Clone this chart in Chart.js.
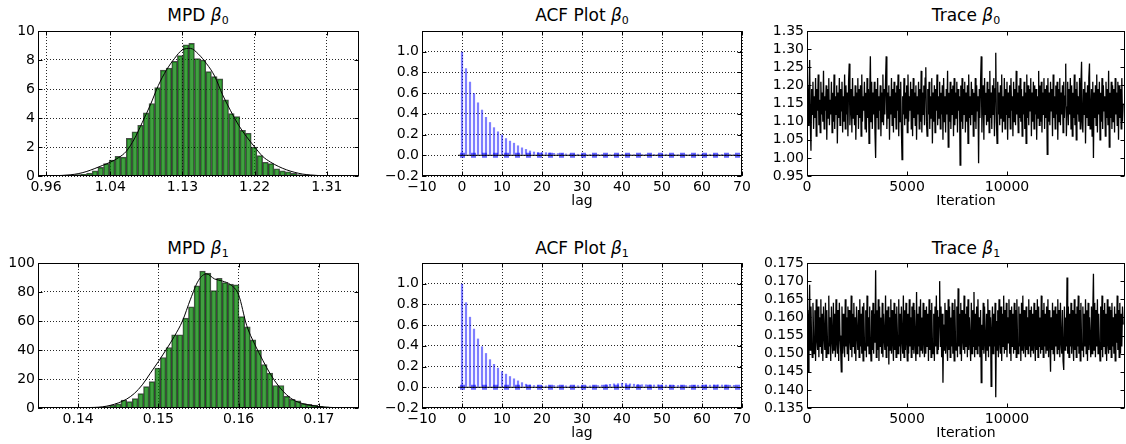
<!DOCTYPE html>
<html>
<head>
<meta charset="utf-8">
<script src="https://cdn.jsdelivr.net/npm/chart.js@4.4.0/dist/chart.umd.min.js"></script>
<style>
body { margin: 0; background: #fff; }
#fig { position: relative; width: 1126px; height: 444px; overflow: hidden; font-family: 'DejaVu Sans', sans-serif; }
#fig canvas { position: absolute; }
.ttl { position: absolute; transform: translateX(-50%); font-size: 17px; line-height: 17px; white-space: nowrap; color: #000; }
.ttl sub { font-size: 11px; line-height: 0; vertical-align: -3px; }
</style>
</head>
<body>
<div id="fig">
  <div class="ttl" style="left:198px;top:7px">MPD <i>β</i><sub>0</sub></div>
  <div class="ttl" style="left:582px;top:7px">ACF Plot <i>β</i><sub>0</sub></div>
  <div class="ttl" style="left:966px;top:7px">Trace <i>β</i><sub>0</sub></div>
  <div class="ttl" style="left:198px;top:240px">MPD <i>β</i><sub>1</sub></div>
  <div class="ttl" style="left:582px;top:240px">ACF Plot <i>β</i><sub>1</sub></div>
  <div class="ttl" style="left:966px;top:240px">Trace <i>β</i><sub>1</sub></div>

  <canvas id="mpd0" width="370" height="216" style="left:0;top:0"></canvas>
  <canvas id="acf0" width="385" height="216" style="left:370px;top:0"></canvas>
  <canvas id="trace0" width="376" height="216" style="left:750px;top:0"></canvas>
  <canvas id="mpd1" width="370" height="218" style="left:0;top:230px"></canvas>
  <canvas id="acf1" width="385" height="218" style="left:370px;top:230px"></canvas>
  <canvas id="trace1" width="376" height="218" style="left:750px;top:230px"></canvas>
</div>

<script>
// ---- histogram of beta0 (bin centres / heights) and its density curve
const mpd0Bins = [0.9856,0.9927,0.9998,1.0069,1.0140,1.0210,1.0281,1.0352,1.0423,1.0494,1.0564,1.0635,1.0706,1.0777,1.0848,
  1.0918,1.0989,1.1060,1.1131,1.1202,1.1272,1.1343,1.1414,1.1485,1.1556,1.1626,1.1697,1.1768,1.1839,1.1910,1.1980,1.2051,
  1.2122,1.2193,1.2264,1.2334,1.2405,1.2476,1.2547,1.2618,1.2688,1.2759,1.2830,1.2901];
const mpd0Heights = [0.05,0.07,0.1,0.12,0.2,0.35,0.6,0.85,1.1,1.35,1.3,2.6,3.05,3.5,4.35,5.0,6.1,7.3,7.45,7.9,8.3,9.05,9.15,
  8.1,8.0,7.2,6.85,6.7,5.25,4.3,4.1,3.15,2.95,2.0,1.4,0.95,0.85,0.5,0.35,0.28,0.18,0.1,0.06,0.03];
const kde0X = [0.97,0.98,0.99,1.00,1.01,1.02,1.03,1.04,1.05,1.06,1.07,1.08,1.09,1.10,1.11,1.12,1.13,1.14,1.15,1.16,1.17,1.18,
  1.19,1.20,1.21,1.22,1.23,1.24,1.25,1.26,1.27,1.28,1.29,1.30,1.31];
const kde0Y = [0.02,0.04,0.08,0.16,0.3,0.5,0.72,0.95,1.25,1.7,2.55,3.7,4.9,6.25,7.3,8.1,8.7,8.8,8.4,7.75,6.9,5.6,4.5,3.5,
  2.7,2.0,1.35,0.95,0.65,0.42,0.25,0.13,0.07,0.03,0.01];

// ---- histogram of beta1
const mpd1Bins = [0.1387,0.1394,0.1401,0.1408,0.1415,0.1422,0.1429,0.1436,0.1443,0.1450,0.1457,0.1464,0.1471,0.1478,0.1485,
  0.1492,0.1499,0.1506,0.1513,0.1520,0.1527,0.1534,0.1541,0.1548,0.1555,0.1562,0.1569,0.1576,0.1583,0.1590,0.1597,0.1604,
  0.1611,0.1618,0.1625,0.1632,0.1639,0.1646,0.1653,0.1660,0.1667,0.1674,0.1681,0.1688,0.1695,0.1702,0.1709,0.1716,0.1723,0.1730];
const mpd1Heights = [0.5,0.2,0.3,0.4,0.3,0.3,0.6,1.0,2.0,2.8,5.5,4.4,6.5,9.9,14.7,18.2,27.6,34.8,41.7,50.5,50.5,62,69.8,84.3,
  94.5,93,81,89.5,86.5,85.5,85,63,56,47,40,30,24,15.5,15.5,8,6,5,3,2.5,2,1.2,0.8,0.5,0.3,0.2];
const kde1X = [0.138,0.139,0.140,0.141,0.142,0.143,0.144,0.145,0.146,0.147,0.148,0.149,0.150,0.151,0.152,0.153,0.154,0.155,
  0.156,0.157,0.158,0.159,0.160,0.161,0.162,0.163,0.164,0.165,0.166,0.167,0.168,0.169,0.170,0.171,0.172,0.173];
const kde1Y = [0.1,0.2,0.2,0.3,0.4,0.8,1.8,3.5,6,10,16,24,32,40.5,49.5,60,75,88,92.5,89,87.5,85,78,57,44,33,23,15,9,5,3,1.8,
  1.0,0.5,0.3,0.1];

// ---- autocorrelation by lag (lag = index)
const acf0 = [1.0,0.84,0.71,0.60,0.51,0.44,0.37,0.32,0.27,0.23,0.20,0.165,0.14,0.12,0.095,0.075,0.06,0.045,0.035,0.03,0.03,
  0.028,0.025,0.022,0.02,0.018,0.016,0.015,0.014,0.013,0.012,0.012,0.011,0.01,0.012,0.011,0.01,0.009,0.01,0.012,0.013,0.012,
  0.011,0.01,0.01,0.011,0.012,0.013,0.012,0.011,0.012,0.013,0.012,0.011,0.01,0.01,0.011,0.012,0.013,0.014,0.013,0.012,0.013,
  0.014,0.013,0.012,0.012,0.011,0.01];
const acf1 = [1.0,0.82,0.68,0.565,0.47,0.395,0.33,0.27,0.225,0.188,0.155,0.13,0.107,0.085,0.065,0.048,0.033,0.025,0.02,0.02,
  0.018,0.017,0.018,0.02,0.019,0.018,0.017,0.016,0.017,0.018,0.017,0.016,0.017,0.018,0.02,0.024,0.028,0.032,0.036,0.038,0.042,
  0.04,0.036,0.033,0.03,0.028,0.027,0.026,0.025,0.026,0.025,0.024,0.023,0.022,0.021,0.02,0.02,0.021,0.022,0.023,0.024,0.025,
  0.024,0.025,0.026,0.025,0.024,0.023,0.022];
const acfLineSpan = [-1, 69];

// ---- thinned traces (one stored sample every traceStep iterations)
const traceStep = 33;
const trace0 = [
  1.15,1.20,1.09,1.18,1.27,1.10,1.02,1.19,1.12,1.21,1.08,1.17,1.11,1.22,1.06,1.19,1.13,1.23,1.09,1.16,
  1.07,1.21,1.12,1.18,1.10,1.24,1.08,1.17,1.13,1.20,1.05,1.19,1.11,1.22,1.09,1.16,1.12,1.21,1.07,1.18,
  1.10,1.23,1.08,1.17,1.12,1.20,1.04,1.18,1.11,1.22,1.09,1.19,1.13,1.21,1.07,1.17,1.10,1.23,1.08,1.20,
  1.12,1.18,1.06,1.21,1.26,1.09,1.14,1.19,1.07,1.22,1.11,1.17,1.09,1.20,1.05,1.18,1.12,1.22,1.08,1.19,
  1.11,1.20,1.06,1.23,1.10,1.17,1.13,1.21,1.08,1.18,1.07,1.22,1.11,1.19,1.04,1.17,1.28,1.10,1.21,1.08,
  1.18,1.12,1.21,1.07,1.00,1.19,1.11,1.22,1.08,1.17,1.13,1.20,1.06,1.18,1.10,1.23,1.09,1.19,1.12,1.21,
  1.28,1.08,1.18,1.11,1.20,1.05,1.17,1.12,1.22,1.09,1.19,1.07,1.21,1.11,1.18,1.08,1.20,1.13,1.23,1.06,
  1.19,1.10,1.21,1.08,0.995,1.17,1.12,1.22,1.09,1.18,1.11,1.20,1.07,1.23,1.10,1.17,1.13,1.21,1.08,1.19,
  1.06,1.22,1.11,1.18,1.09,1.20,1.05,1.17,1.12,1.21,1.08,1.19,1.10,1.24,1.07,1.18,1.12,1.20,1.09,1.22,
  1.25,1.10,1.06,1.19,1.12,1.21,1.08,1.17,1.11,1.22,1.04,1.18,1.10,1.20,1.07,1.19,1.13,1.23,1.09,1.17,
  1.11,1.21,1.08,1.18,1.12,1.20,1.05,1.22,1.10,1.17,1.07,1.19,1.12,1.24,1.03,1.18,1.10,1.21,1.08,1.19,
  1.12,1.20,1.06,1.22,1.09,1.18,1.11,1.21,1.07,1.19,1.13,1.17,0.98,1.20,1.10,1.22,1.08,1.19,1.12,1.21,
  1.07,1.18,1.10,1.20,1.04,1.23,1.11,1.17,1.09,1.21,1.12,1.19,1.06,1.18,1.10,1.22,1.08,1.20,1.13,1.17,
  0.985,1.19,1.11,1.21,1.28,1.07,1.16,1.20,1.05,1.22,1.12,1.18,1.09,1.21,1.10,1.19,1.07,1.24,1.11,1.18,
  1.08,1.20,1.12,1.22,1.06,1.19,1.29,1.10,1.04,1.21,1.12,1.18,1.09,1.20,1.11,1.23,1.07,1.17,1.10,1.22,
  1.08,1.19,1.12,1.21,1.05,1.18,1.11,1.20,1.08,1.22,1.13,1.17,1.06,1.21,1.10,1.19,1.09,1.24,1.12,1.18,
  1.07,1.20,1.11,1.22,1.10,1.19,1.06,1.17,1.12,1.21,1.08,1.18,1.04,1.23,1.11,1.20,1.09,1.19,1.13,1.22,
  1.06,1.18,1.10,1.21,1.08,1.20,1.12,1.19,1.05,1.17,1.11,1.24,1.09,1.20,1.10,1.21,1.07,1.18,1.12,1.22,
  1.08,1.19,1.11,1.20,1.01,1.22,1.10,1.18,1.09,1.21,1.13,1.19,1.06,1.23,1.11,1.17,1.08,1.20,1.12,1.21,
  1.05,1.19,1.10,1.22,1.09,1.18,1.12,1.20,1.07,1.21,1.11,1.17,1.26,1.06,1.14,1.21,1.09,1.19,1.12,1.22,
  1.08,1.20,1.06,1.18,1.11,1.23,1.09,1.19,1.05,1.21,1.12,1.17,1.10,1.22,1.08,1.20,1.265,1.10,1.07,1.19,
  1.12,1.21,1.04,1.18,1.11,1.20,1.09,1.22,1.26,1.08,1.13,1.19,1.06,1.21,1.00,1.18,1.11,1.20,1.09,1.23,
  1.07,1.19,1.12,1.21,1.05,1.18,1.10,1.22,1.08,1.20,1.13,1.17,1.06,1.21,1.11,1.19,1.09,1.24,1.03,1.18,
  1.11,1.21,1.08,1.20,1.10,1.19,1.07,1.22,1.12,1.18,1.09,1.21,1.05,1.20,1.11,1.19,1.08,1.22,1.10,1.15];
const trace1 = [
  0.157,0.162,0.145,0.160,0.169,0.151,0.163,0.153,0.149,0.164,0.155,0.150,0.162,0.148,0.165,0.154,0.151,0.163,0.149,0.160,
  0.152,0.165,0.150,0.161,0.148,0.163,0.155,0.151,0.164,0.149,0.162,0.153,0.150,0.166,0.152,0.160,0.148,0.163,0.154,0.150,
  0.164,0.151,0.161,0.149,0.165,0.153,0.150,0.162,0.148,0.164,0.155,0.151,0.145,0.163,0.150,0.161,0.153,0.149,0.165,0.152,
  0.160,0.150,0.163,0.148,0.162,0.154,0.151,0.166,0.149,0.161,0.152,0.164,0.150,0.160,0.148,0.163,0.155,0.151,0.162,0.149,
  0.165,0.152,0.161,0.150,0.163,0.148,0.164,0.153,0.151,0.162,0.149,0.166,0.152,0.160,0.150,0.163,0.154,0.148,0.162,0.151,
  0.164,0.150,0.161,0.153,0.173,0.149,0.162,0.151,0.165,0.148,0.163,0.152,0.160,0.150,0.164,0.149,0.161,0.154,0.151,0.166,
  0.149,0.162,0.152,0.163,0.147,0.160,0.151,0.165,0.150,0.162,0.153,0.148,0.164,0.151,0.161,0.149,0.163,0.155,0.150,0.165,
  0.152,0.161,0.148,0.163,0.154,0.150,0.166,0.149,0.162,0.151,0.164,0.153,0.148,0.161,0.150,0.165,0.152,0.160,0.149,0.163,
  0.151,0.164,0.150,0.162,0.153,0.148,0.167,0.150,0.161,0.152,0.163,0.149,0.165,0.151,0.160,0.150,0.164,0.153,0.149,0.162,
  0.150,0.163,0.152,0.161,0.148,0.165,0.151,0.162,0.149,0.164,0.153,0.150,0.161,0.148,0.163,0.152,0.166,0.150,0.162,0.151,
  0.160,0.170,0.152,0.163,0.149,0.161,0.142,0.158,0.151,0.164,0.150,0.162,0.153,0.148,0.165,0.151,0.163,0.149,0.160,0.152,
  0.164,0.150,0.162,0.148,0.165,0.153,0.151,0.163,0.149,0.168,0.152,0.161,0.150,0.164,0.148,0.162,0.154,0.151,0.166,0.150,
  0.161,0.152,0.163,0.149,0.165,0.151,0.160,0.153,0.148,0.164,0.150,0.162,0.152,0.167,0.149,0.161,0.151,0.163,0.150,0.165,
  0.152,0.160,0.149,0.162,0.142,0.158,0.151,0.164,0.150,0.163,0.153,0.148,0.161,0.151,0.165,0.149,0.162,0.152,0.160,0.141,
  0.156,0.163,0.150,0.161,0.152,0.164,0.138,0.159,0.151,0.162,0.149,0.165,0.153,0.150,0.163,0.148,0.161,0.152,0.166,0.150,
  0.162,0.151,0.164,0.149,0.160,0.153,0.165,0.150,0.162,0.148,0.163,0.152,0.161,0.150,0.164,0.151,0.162,0.149,0.165,0.153,
  0.150,0.163,0.152,0.161,0.148,0.164,0.151,0.166,0.150,0.162,0.153,0.149,0.163,0.151,0.160,0.150,0.165,0.152,0.162,0.149,
  0.163,0.151,0.161,0.150,0.164,0.153,0.148,0.162,0.151,0.165,0.149,0.163,0.152,0.160,0.150,0.166,0.151,0.162,0.149,0.164,
  0.152,0.161,0.150,0.163,0.151,0.165,0.149,0.162,0.153,0.145,0.160,0.151,0.164,0.150,0.162,0.148,0.163,0.152,0.161,0.150,
  0.165,0.151,0.162,0.149,0.164,0.153,0.150,0.162,0.148,0.1455,0.163,0.151,0.160,0.152,0.171,0.150,0.163,0.149,0.161,0.152,
  0.164,0.150,0.162,0.153,0.148,0.165,0.151,0.161,0.149,0.163,0.152,0.166,0.150,0.162,0.148,0.164,0.153,0.151,0.163,0.149,
  0.161,0.152,0.165,0.150,0.162,0.148,0.164,0.151,0.160,0.153,0.149,0.163,0.150,0.161,0.172,0.151,0.164,0.149,0.162,0.152,
  0.165,0.150,0.161,0.153,0.148,0.163,0.151,0.166,0.149,0.162,0.152,0.164,0.150,0.161,0.148,0.165,0.153,0.150,0.163,0.151,
  0.162,0.149,0.164,0.152,0.160,0.150,0.163,0.148,0.161,0.153,0.166,0.151,0.162,0.149,0.164,0.150,0.161,0.152,0.163,0.158];

// ---- tick values
const mpd0XTicks = [0.96, 1.04, 1.13, 1.22, 1.31];
const mpd0YTicks = [0, 2, 4, 6, 8, 10];
const mpd1XTicks = [0.14, 0.15, 0.16, 0.17];
const mpd1YTicks = [0, 20, 40, 60, 80, 100];
const acfXTicks = [-10, 0, 10, 20, 30, 40, 50, 60, 70];
const acfYTicks = [-0.2, 0, 0.2, 0.4, 0.6, 0.8, 1.0];
const traceXTicks = [0, 5000, 10000];
const trace0YTicks = [0.95, 1.00, 1.05, 1.10, 1.15, 1.20, 1.25, 1.30, 1.35];
const trace1YTicks = [0.135, 0.140, 0.145, 0.150, 0.155, 0.160, 0.165, 0.170, 0.175];

Chart.defaults.font.family = "'DejaVu Sans', sans-serif";
Chart.defaults.font.size = 14;
Chart.defaults.color = '#000';

const minus = s => s.replace('-', '\u2212');

// box around the plot plus matplotlib-like inward ticks on all four sides
const frameTicks = {
  id: 'frameTicks',
  afterDraw(chart) {
    const { ctx, chartArea: a, scales } = chart;
    const L = Math.round(a.left) + 0.5, R = Math.round(a.right) - 0.5;
    const T = Math.round(a.top) + 0.5, B = Math.round(a.bottom) - 0.5;
    ctx.save();
    ctx.strokeStyle = '#000';
    ctx.lineWidth = 1;
    ctx.beginPath();
    scales.x.ticks.forEach(t => {
      const p = Math.round(scales.x.getPixelForValue(t.value)) + 0.5;
      ctx.moveTo(p, B); ctx.lineTo(p, B - 4);
      ctx.moveTo(p, T); ctx.lineTo(p, T + 4);
    });
    scales.y.ticks.forEach(t => {
      const p = Math.round(scales.y.getPixelForValue(t.value)) + 0.5;
      ctx.moveTo(L, p); ctx.lineTo(L + 4, p);
      ctx.moveTo(R, p); ctx.lineTo(R - 4, p);
    });
    ctx.stroke();
    ctx.strokeRect(L, T, R - L, B - T);
    ctx.restore();
  }
};

function buildChart(id, type, datasets, o) {
  return new Chart(document.getElementById(id), {
    type: type,
    data: { datasets: datasets },
    options: {
      responsive: false,
      animation: false,
      devicePixelRatio: 1,
      layout: { padding: { top: o.padTop, right: o.padRight, left: 0, bottom: 0 } },
      plugins: { legend: { display: false }, tooltip: { enabled: false } },
      scales: {
        x: {
          type: 'linear', min: o.xMin, max: o.xMax, offset: false,
          afterBuildTicks: s => { s.ticks = o.xTicks.map(v => ({ value: v })); },
          afterFit: s => { s.height = 40; },
          ticks: { autoSkip: false, maxRotation: 0, padding: 3, callback: o.xFmt },
          grid: { display: o.grid, drawTicks: false, offset: false, color: 'rgba(0,0,0,0.85)' },
          border: { display: false, dash: [1, 2] },
          title: { display: !!o.xTitle, text: o.xTitle, font: { size: 14 }, padding: { top: 0, bottom: 6 } }
        },
        y: {
          type: 'linear', min: o.yMin, max: o.yMax,
          afterBuildTicks: s => { s.ticks = o.yTicks.map(v => ({ value: v })); },
          afterFit: s => { s.width = o.yWidth; },
          ticks: { autoSkip: false, padding: 3, callback: o.yFmt },
          grid: { display: o.grid, drawTicks: false, color: 'rgba(0,0,0,0.85)' },
          border: { display: false, dash: [1, 2] }
        }
      }
    },
    plugins: [frameTicks]
  });
}

function histSets(bins, heights, kx, ky) {
  return [
    { type: 'line', order: 0, data: kx.map((x, i) => ({ x: x, y: ky[i] })), borderColor: '#000', borderWidth: 1,
      pointRadius: 0, cubicInterpolationMode: 'monotone', fill: false },
    { type: 'bar', order: 1, data: bins.map((x, i) => ({ x: x, y: heights[i] })),
      backgroundColor: 'rgba(0,128,0,0.75)', borderColor: 'rgba(0,0,0,0.7)', borderWidth: 1,
      barPercentage: 1, categoryPercentage: 1 }
  ];
}

function acfSets(vals) {
  return [
    { type: 'line', order: 0, data: acfLineSpan.map(x => ({ x: x, y: 0 })), borderColor: '#000', borderWidth: 1, pointRadius: 0 },
    { type: 'line', order: 1, data: [{ x: -0.5, y: 0 }, { x: vals.length + 0.5, y: 0 }], borderColor: 'rgba(0,0,255,0.6)',
      borderWidth: 5, borderDash: [5, 6], pointRadius: 0 },
    { type: 'bar', order: 2, data: vals.map((v, i) => ({ x: i, y: v })), backgroundColor: 'rgba(0,0,255,0.5)',
      borderWidth: 0, barPercentage: 0.55, categoryPercentage: 1 }
  ];
}

function traceSets(vals) {
  return [{ type: 'line', data: vals.map((v, i) => ({ x: i * traceStep, y: v })), borderColor: '#000', borderWidth: 1.3,
    pointRadius: 0, tension: 0 }];
}

const rows = [
  { padTop: 31, mpdBins: mpd0Bins, mpdH: mpd0Heights, kx: kde0X, ky: kde0Y, acf: acf0, trace: trace0, suffix: '0',
    mpd: { xMin: 0.95, xMax: 1.35, xTicks: mpd0XTicks, yMin: 0, yMax: 10, yTicks: mpd0YTicks, xFmt: v => v.toFixed(2) },
    trY: { yMin: 0.95, yMax: 1.35, yTicks: trace0YTicks, yFmt: v => v.toFixed(2) } },
  { padTop: 33, mpdBins: mpd1Bins, mpdH: mpd1Heights, kx: kde1X, ky: kde1Y, acf: acf1, trace: trace1, suffix: '1',
    mpd: { xMin: 0.135, xMax: 0.175, xTicks: mpd1XTicks, yMin: 0, yMax: 100, yTicks: mpd1YTicks, xFmt: v => v.toFixed(2) },
    trY: { yMin: 0.135, yMax: 0.175, yTicks: trace1YTicks, yFmt: v => v.toFixed(3) } }
];

rows.forEach(r => {
  buildChart('mpd' + r.suffix, 'bar', histSets(r.mpdBins, r.mpdH, r.kx, r.ky), Object.assign({
    padTop: r.padTop, padRight: 11, yWidth: 38, grid: true, yFmt: v => String(v)
  }, r.mpd));

  buildChart('acf' + r.suffix, 'bar', acfSets(r.acf), {
    padTop: r.padTop, padRight: 13, yWidth: 52, grid: true, xTitle: 'lag',
    xMin: -10, xMax: 70, xTicks: acfXTicks, xFmt: v => minus(String(v)),
    yMin: -0.2, yMax: 1.2, yTicks: acfYTicks, yFmt: v => minus(v.toFixed(1))
  });

  buildChart('trace' + r.suffix, 'line', traceSets(r.trace), Object.assign({
    padTop: r.padTop, padRight: 1, yWidth: 57, grid: false, xTitle: 'Iteration',
    xMin: 0, xMax: 15900, xTicks: traceXTicks, xFmt: v => String(v)
  }, r.trY));
});
</script>
</body>
</html>
